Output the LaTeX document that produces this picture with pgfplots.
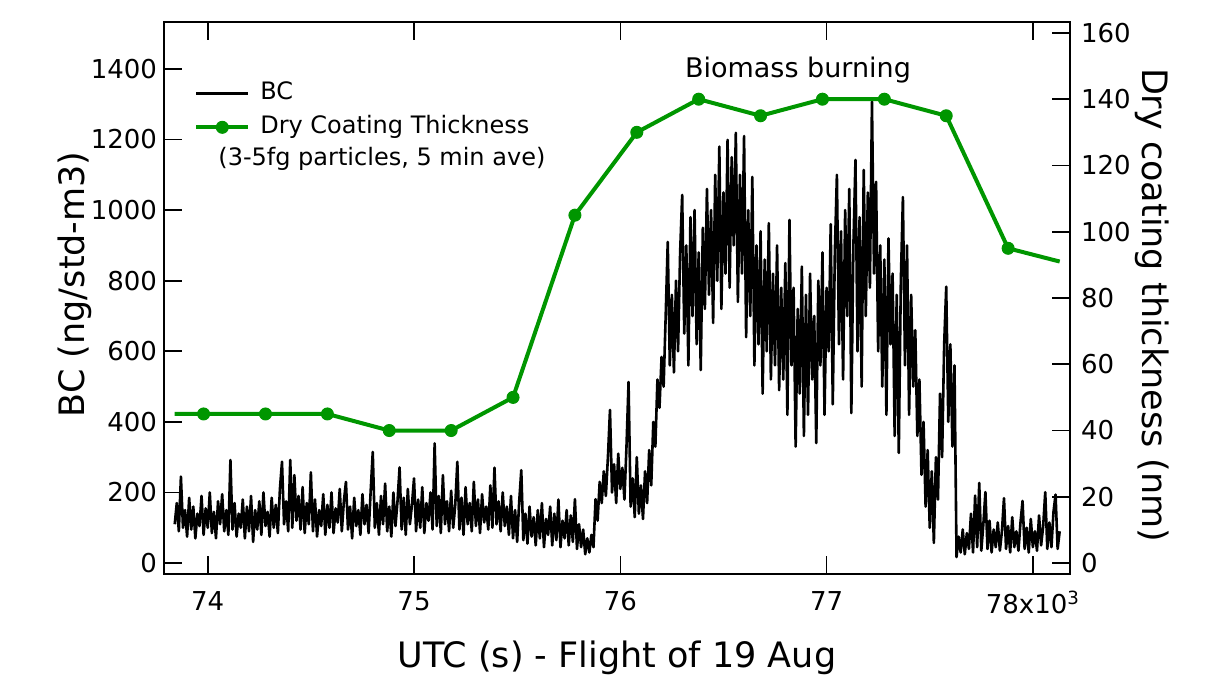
\documentclass[border=0pt]{standalone}
\usepackage{fontspec}
\setmainfont{DejaVu Sans}
\usepackage{pgfplots}
\pgfplotsset{compat=1.18}
\definecolor{dgreen}{RGB}{0,150,0}

\begin{document}
\begin{tikzpicture}
\pgfplotsset{
  every axis/.append style={
    scale only axis, width=453pt, height=276pt,
    xmin=73.788, xmax=78.18,
    tick align=inside, major tick length=9pt,
    axis line style={line width=0.8pt},
    every tick/.style={black, line width=0.8pt},
    /pgf/number format/assume math mode=true,
    /pgf/number format/1000 sep={},
    tick label style={font=\fontsize{13}{15}\selectfont},
    label style={font=\fontsize{17.5}{20}\selectfont},
  }
}
\begin{axis}[name=main,
  ymin=-31, ymax=1533, ytick={0,200,...,1400}, ytick pos=left,
  xtick={74,75,76,77,78}, xticklabels={74,75,76,77,{78x10\textsuperscript{3}}},
  xtick pos=both, xticklabel style={yshift=-5pt},
  xlabel={UTC (s) - Flight of 19 Aug},
  xlabel style={at={(axis description cs:0.5,-0.17)}, anchor=base},
  ylabel={BC (ng/std-m3)},
  ylabel style={at={(axis description cs:-0.098,0.525)}, anchor=center},
  legend cell align=left,
  legend style={draw=none, fill=none, at={(rel axis cs:0.033,0.896)}, anchor=north west,
    inner sep=0pt, row sep=3.5pt,
    nodes={inner sep=1pt, text height=9pt, text depth=2.5pt, font=\fontsize{12}{14}\selectfont},
    /tikz/every odd column/.append style={column sep=4pt}},
  legend image code/.code={\draw[mark repeat=2, mark phase=2, #1] plot coordinates {(0pt,0pt) (13pt,0pt) (26pt,0pt)};},
]
\addplot[black, line width=1.3pt, line join=round] coordinates {
(73.84,110) (73.85,170) (73.86,90) (73.87,245) (73.88,100) (73.89,150) (73.90,75) (73.91,185) (73.92,95) (73.93,160)
(73.94,70) (73.95,140) (73.96,105) (73.97,190) (73.98,80) (73.99,155) (74.00,100) (74.01,200) (74.02,85) (74.03,145)
(74.04,70) (74.05,175) (74.06,110) (74.07,195) (74.08,90) (74.09,150) (74.10,80) (74.11,292) (74.12,95) (74.13,170)
(74.14,75) (74.15,140) (74.16,100) (74.17,180) (74.18,70) (74.19,160) (74.20,90) (74.21,190) (74.22,60) (74.23,150)
(74.24,95) (74.25,175) (74.26,80) (74.27,200) (74.28,105) (74.29,145) (74.30,75) (74.31,185) (74.32,100) (74.33,165)
(74.34,85) (74.35,210) (74.36,287) (74.37,110) (74.38,175) (74.39,90) (74.40,292) (74.41,100) (74.42,249) (74.43,120)
(74.44,190) (74.45,95) (74.46,215) (74.47,85) (74.48,170) (74.49,110) (74.50,257) (74.51,90) (74.52,180) (74.53,75)
(74.54,150) (74.55,105) (74.56,195) (74.57,80) (74.58,165) (74.59,100) (74.60,200) (74.61,85) (74.62,155) (74.63,115)
(74.64,210) (74.65,90) (74.66,175) (74.67,230) (74.68,95) (74.69,160) (74.70,70) (74.71,185) (74.72,105) (74.73,150)
(74.74,80) (74.75,195) (74.76,110) (74.77,165) (74.78,85) (74.79,205) (74.80,315) (74.81,100) (74.82,170) (74.83,80)
(74.84,190) (74.85,110) (74.86,225) (74.87,90) (74.88,160) (74.89,75) (74.90,200) (74.91,105) (74.92,175) (74.93,271)
(74.94,95) (74.95,185) (74.96,80) (74.97,210) (74.98,110) (74.99,165) (75.00,240) (75.01,90) (75.02,180) (75.03,100)
(75.04,215) (75.05,85) (75.06,170) (75.07,120) (75.08,200) (75.09,95) (75.10,339) (75.11,105) (75.12,190) (75.13,85)
(75.14,249) (75.15,110) (75.16,175) (75.17,90) (75.18,205) (75.19,100) (75.20,165) (75.21,287) (75.22,95) (75.23,185)
(75.24,80) (75.25,215) (75.26,110) (75.27,170) (75.28,90) (75.29,230) (75.30,105) (75.31,180) (75.32,85) (75.33,195)
(75.34,115) (75.35,160) (75.36,95) (75.37,220) (75.38,100) (75.39,270) (75.40,110) (75.41,175) (75.42,90) (75.43,200)
(75.44,105) (75.45,160) (75.46,80) (75.47,190) (75.48,70) (75.49,150) (75.50,60) (75.51,175) (75.52,263) (75.53,65)
(75.54,140) (75.55,55) (75.56,160) (75.57,75) (75.58,130) (75.59,50) (75.60,150) (75.61,70) (75.62,170) (75.63,45)
(75.64,125) (75.65,80) (75.66,160) (75.67,50) (75.68,140) (75.69,65) (75.70,180) (75.71,45) (75.72,120) (75.73,70)
(75.74,150) (75.75,50) (75.76,135) (75.77,60) (75.78,181) (75.79,40) (75.80,110) (75.81,45) (75.82,95) (75.83,25)
(75.84,70) (75.85,30) (75.86,80) (75.87,45) (75.88,181) (75.89,120) (75.90,230) (75.91,170) (75.92,260) (75.93,190)
(75.94,300) (75.95,434) (75.96,200) (75.97,280) (75.98,170) (75.99,310) (76.00,210) (76.01,270) (76.02,180) (76.03,330)
(76.04,513) (76.05,160) (76.06,240) (76.07,130) (76.08,300) (76.09,140) (76.10,220) (76.11,125) (76.12,260) (76.13,170)
(76.14,320) (76.15,220) (76.16,400) (76.17,330) (76.18,520) (76.19,440) (76.20,584) (76.21,500) (76.22,700) (76.23,910)
(76.24,560) (76.25,760) (76.26,540) (76.27,800) (76.28,600) (76.29,880) (76.30,1043) (76.31,650) (76.32,900) (76.33,560)
(76.34,980) (76.35,700) (76.36,1000) (76.37,620) (76.38,880) (76.39,547) (76.40,950) (76.41,720) (76.42,1060) (76.43,760)
(76.44,1000) (76.45,680) (76.46,1100) (76.47,800) (76.48,1180) (76.49,720) (76.50,1050) (76.51,820) (76.52,1199) (76.53,780)
(76.54,1150) (76.55,900) (76.56,1219) (76.57,740) (76.58,1100) (76.59,820) (76.60,1210) (76.61,640) (76.62,1000) (76.63,700)
(76.64,1094) (76.65,560) (76.66,900) (76.67,620) (76.68,940) (76.69,480) (76.70,860) (76.71,600) (76.72,963) (76.73,520)
(76.74,820) (76.75,560) (76.76,900) (76.77,490) (76.78,780) (76.79,520) (76.80,850) (76.81,420) (76.82,972) (76.83,560)
(76.84,780) (76.85,330) (76.86,720) (76.87,480) (76.88,840) (76.89,360) (76.90,760) (76.91,420) (76.92,820) (76.93,520)
(76.94,700) (76.95,340) (76.96,800) (76.97,560) (76.98,880) (76.99,420) (77.00,780) (77.01,600) (77.02,960) (77.03,450)
(77.04,880) (77.05,1100) (77.06,620) (77.07,940) (77.08,520) (77.09,1000) (77.10,700) (77.11,1060) (77.12,425) (77.13,900)
(77.14,1142) (77.15,600) (77.16,980) (77.17,500) (77.18,1114) (77.19,700) (77.20,1050) (77.21,780) (77.22,1307) (77.23,820)
(77.24,1080) (77.25,600) (77.26,900) (77.27,500) (77.28,860) (77.29,420) (77.30,920) (77.31,620) (77.32,820) (77.33,360)
(77.34,760) (77.35,312) (77.36,800) (77.37,1037) (77.38,560) (77.39,900) (77.40,420) (77.41,760) (77.42,500) (77.43,660)
(77.44,360) (77.45,520) (77.46,250) (77.47,400) (77.48,160) (77.49,320) (77.50,100) (77.51,260) (77.52,57) (77.53,300)
(77.54,180) (77.55,480) (77.56,300) (77.57,620) (77.58,783) (77.59,400) (77.60,620) (77.61,330) (77.62,560) (77.63,17)
(77.64,75) (77.65,30) (77.66,95) (77.67,25) (77.68,85) (77.69,40) (77.70,140) (77.71,30) (77.72,191) (77.73,45)
(77.74,227) (77.75,35) (77.76,110) (77.77,201) (77.78,40) (77.79,120) (77.80,30) (77.81,95) (77.82,45) (77.83,115)
(77.84,35) (77.85,90) (77.86,184) (77.87,40) (77.88,105) (77.89,30) (77.90,130) (77.91,45) (77.92,90) (77.93,35)
(77.94,115) (77.95,176) (77.96,40) (77.97,100) (77.98,30) (77.99,125) (78.00,45) (78.01,90) (78.02,35) (78.03,135)
(78.04,50) (78.05,105) (78.06,201) (78.07,40) (78.08,115) (78.09,45) (78.10,145) (78.11,194) (78.12,40) (78.13,90)
};
\addlegendentry{BC}
\addlegendimage{dgreen, line width=2pt, mark=*, mark size=3pt, mark options={line width=0.5pt}}
\addlegendentry{Dry Coating Thickness}
\node[anchor=base west, inner sep=0pt, font=\fontsize{12}{14}\selectfont] at (rel axis cs:0.0596,0.7396) {(3-5fg particles, 5 min ave)};
\node[anchor=base, inner sep=0pt, font=\fontsize{13.5}{16}\selectfont] at (rel axis cs:0.6998,0.900) {Biomass burning};
\end{axis}
\begin{axis}[
  ymin=-3.3, ymax=163.3, axis y line*=right, axis x line=none,
  ytick={0,20,...,160}, yticklabel style={xshift=2pt},
  ylabel={Dry coating thickness (nm)},
  ylabel style={at={(axis description cs:1.0905,0.487)}, anchor=center, rotate=180},
]
\addplot[dgreen, line width=2pt, line join=round, mark=*, mark size=3pt, mark options={line width=0.5pt}, mark indices={2,...,15}] coordinates {
(73.84,45) (73.98,45) (74.28,45) (74.58,45) (74.88,40) (75.18,40) (75.48,50) (75.78,105)
(76.08,130) (76.38,140) (76.68,135) (76.98,140) (77.28,140) (77.58,135) (77.88,95) (78.13,91)
};
\end{axis}
\path ([shift={(-82pt,-51.5pt)}]main.south west) rectangle ([shift={(73pt,11pt)}]main.north east);
\end{tikzpicture}
\end{document}
